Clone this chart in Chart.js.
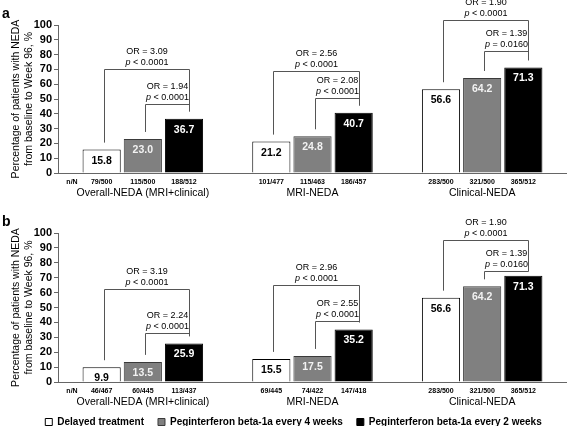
<!DOCTYPE html>
<html lang="en">
<head>
    <meta charset="UTF-8">
    <title>NEDA | Week 96</title>
    <style>
        body { margin: 0; background: #fff; }
        .painel { position: relative; width: 567px; height: 426px; overflow: hidden; }
        #graficoA { position: absolute; left: 0; top: 0; }
        #graficoB { position: absolute; left: 0; top: 208px; }
    </style>
</head>
<body>
    <div class="painel">
        <canvas id="graficoA" width="567" height="205"></canvas>
        <canvas id="graficoB" width="567" height="240"></canvas>
    </div>

    <script src="https://cdn.jsdelivr.net/npm/chart.js"></script>
    <script>
        // categorias e series
        const grupos = ['Overall-NEDA (MRI+clinical)', 'MRI-NEDA', 'Clinical-NEDA'];
        const series = ['Delayed treatment', 'Peginterferon beta-1a every 4 weeks', 'Peginterferon beta-1a every 2 weeks'];
        const yTicks = [0, 10, 20, 30, 40, 50, 60, 70, 80, 90, 100];

        // painel a
        const atrasadoA = [15.8, 21.2, 56.6];
        const q4sA = [23.0, 24.8, 64.2];
        const q2sA = [36.7, 40.7, 71.3];
        const nAtrasadoA = ['79/500', '101/477', '283/500'];
        const nQ4sA = ['115/500', '115/463', '321/500'];
        const nQ2sA = ['188/512', '186/457', '365/512'];
        const orExtA = [3.09, 2.56, 1.90];
        const pExtA = ['< 0.0001', '< 0.0001', '< 0.0001'];
        const orIntA = [1.94, 2.08, 1.39];
        const pIntA = ['< 0.0001', '< 0.0001', '= 0.0160'];
        const nivelExtA = [70.3, 69.1, 103.4];   // altura das chaves (%)
        const nivelIntA = [46.4, 50.5, 82.4];

        // painel b
        const atrasadoB = [9.9, 15.5, 56.6];
        const q4sB = [13.5, 17.5, 64.2];
        const q2sB = [25.9, 35.2, 71.3];
        const nAtrasadoB = ['46/467', '69/445', '283/500'];
        const nQ4sB = ['60/445', '74/422', '321/500'];
        const nQ2sB = ['113/437', '147/418', '365/512'];
        const orExtB = [3.19, 2.96, 1.90];
        const pExtB = ['< 0.0001', '< 0.0001', '< 0.0001'];
        const orIntB = [2.24, 2.55, 1.39];
        const pIntB = ['< 0.0001', '< 0.0001', '= 0.0160'];
        const nivelExtB = [62.3, 65.2, 95.5];
        const nivelIntB = [32.8, 41.2, 74.7];

        const FONTE = "'Liberation Sans', Arial, sans-serif";
        const corTexto = ['#000', '#f2f2f2', '#fff'];

        // rotulos, n/N e chaves com OR
        const rotulosPlugin = {
            id: 'rotulos',
            afterLayout(chart, args, opts) {
                // sobe a legenda para ficar junto dos rotulos do eixo x
                if (chart.legend && opts.subirLegenda) {
                    chart.legend.top -= opts.subirLegenda;
                    chart.legend.bottom -= opts.subirLegenda;
                }
            },
            afterDatasetsDraw(chart, args, opts) {
                const { ctx, chartArea, scales: { x, y } } = chart;
                const metas = [0, 1, 2].map(i => chart.getDatasetMeta(i));
                ctx.save();

                // letra do painel
                ctx.fillStyle = '#000';
                ctx.font = 'bold 14px ' + FONTE;
                ctx.textAlign = 'left';
                ctx.textBaseline = 'middle';
                ctx.fillText(opts.letra, 2, 14);

                // valores dentro das barras + n/N
                ctx.textAlign = 'center';
                metas.forEach((meta, i) => {
                    const dados = chart.data.datasets[i].data;
                    meta.data.forEach((bar, j) => {
                        ctx.font = 'bold 10.5px ' + FONTE;
                        ctx.fillStyle = corTexto[i];
                        ctx.fillText(dados[j].toFixed(1), bar.x, bar.y + 11);
                        ctx.font = 'bold 7px ' + FONTE;
                        ctx.fillStyle = '#000';
                        ctx.fillText(opts.nN[i][j], bar.x, x.top + 9);
                    });
                });
                ctx.font = 'bold 7px ' + FONTE;
                ctx.fillText('n/N', chartArea.left + 14, x.top + 9);

                // chaves
                ctx.strokeStyle = '#555';
                ctx.lineWidth = 1;
                const px = v => Math.round(v) + 0.5;
                grupos.forEach((g, j) => {
                    const b1 = metas[0].data[j], b2 = metas[1].data[j], b3 = metas[2].data[j];
                    const yExt = px(y.getPixelForValue(opts.nivelExt[j]));
                    const yInt = px(y.getPixelForValue(opts.nivelInt[j]));
                    const x1 = px(b1.x + 2), x2 = px(b2.x + 2), x3 = px(b3.x + 5);
                    ctx.beginPath();
                    ctx.moveTo(x1, b1.y - 7);
                    ctx.lineTo(x1, yExt);
                    ctx.lineTo(x3, yExt);
                    ctx.lineTo(x3, Math.max(yInt, b3.y - 7));
                    ctx.moveTo(x2, b2.y - 7);
                    ctx.lineTo(x2, yInt);
                    ctx.lineTo(x3, yInt);
                    ctx.stroke();

                    escreveOR(ctx, (x1 + x3) / 2, yExt, opts.orExt[j], opts.pExt[j]);
                    escreveOR(ctx, (x2 + x3) / 2, yInt, opts.orInt[j], opts.pInt[j]);
                });
                ctx.restore();
            }
        };

        function escreveOR(ctx, cx, yLinha, or, p) {
            ctx.fillStyle = '#000';
            ctx.textBaseline = 'middle';
            ctx.textAlign = 'center';
            ctx.font = '9px ' + FONTE;
            ctx.fillText('OR = ' + or.toFixed(2), cx, yLinha - 18);
            // p em italico
            const resto = ' ' + p;
            ctx.font = 'italic 9px ' + FONTE;
            const wp = ctx.measureText('p').width;
            ctx.font = '9px ' + FONTE;
            const wr = ctx.measureText(resto).width;
            const x0 = cx - (wp + wr) / 2;
            ctx.textAlign = 'left';
            ctx.font = 'italic 9px ' + FONTE;
            ctx.fillText('p', x0, yLinha - 7);
            ctx.font = '9px ' + FONTE;
            ctx.fillText(resto, x0 + wp, yLinha - 7);
        }

        function montaGrafico(id, valores, extra, comLegenda) {
            const ctx = document.getElementById(id).getContext('2d');
            return new Chart(ctx, {
                type: 'bar',
                data: {
                    labels: grupos,
                    datasets: [
                        { label: series[0], data: valores[0], backgroundColor: '#ffffff', borderColor: '#000000', borderWidth: 1 },
                        { label: series[1], data: valores[1], backgroundColor: '#808080', borderColor: '#3a3a3a', borderWidth: 1 },
                        { label: series[2], data: valores[2], backgroundColor: '#000000', borderColor: '#000000', borderWidth: 1 }
                    ]
                },
                options: {
                    responsive: false,
                    animation: false,
                    categoryPercentage: 0.728,
                    barPercentage: 0.927,
                    layout: { padding: { top: 25, left: 20, right: 0, bottom: 0 } },
                    plugins: {
                        legend: {
                            display: comLegenda,
                            position: 'bottom',
                            labels: {
                                boxWidth: 7,
                                boxHeight: 7,
                                padding: 14,
                                color: '#000',
                                font: { family: FONTE, size: 10, weight: 'bold' }
                            }
                        },
                        tooltip: { enabled: false },
                        rotulos: extra
                    },
                    scales: {
                        x: {
                            grid: { drawOnChartArea: false, drawTicks: false },
                            border: { color: '#666' },
                            ticks: { color: '#000', padding: 14, font: { family: FONTE, size: 10.5 } },
                            afterFit: s => { s.height = 32; }
                        },
                        y: {
                            min: 0,
                            max: 100,
                            afterBuildTicks: s => { s.ticks = yTicks.map(v => ({ value: v })); },
                            grid: { drawOnChartArea: false, drawTicks: true, tickLength: 4, color: '#666' },
                            border: { color: '#666' },
                            ticks: { autoSkip: false, color: '#000', padding: 2, font: { family: FONTE, size: 11, weight: 'bold' } },
                            title: {
                                display: true,
                                text: ['Percentage of patients with NEDA', 'from baseline to Week 96, %'],
                                color: '#000',
                                font: { family: FONTE, size: 10.5 },
                                padding: { top: -10, bottom: 0 }
                            },
                            afterFit: s => { s.width = 38; }
                        }
                    }
                },
                plugins: [rotulosPlugin]
            });
        }

        const graficoA = montaGrafico('graficoA', [atrasadoA, q4sA, q2sA], {
            letra: 'a',
            nN: [nAtrasadoA, nQ4sA, nQ2sA],
            orExt: orExtA, pExt: pExtA, orInt: orIntA, pInt: pIntA,
            nivelExt: nivelExtA, nivelInt: nivelIntA
        }, false);

        const graficoB = montaGrafico('graficoB', [atrasadoB, q4sB, q2sB], {
            letra: 'b',
            nN: [nAtrasadoB, nQ4sB, nQ2sB],
            orExt: orExtB, pExt: pExtB, orInt: orIntB, pInt: pIntB,
            nivelExt: nivelExtB, nivelInt: nivelIntB,
            subirLegenda: 11
        }, true);
    </script>
</body>
</html>
